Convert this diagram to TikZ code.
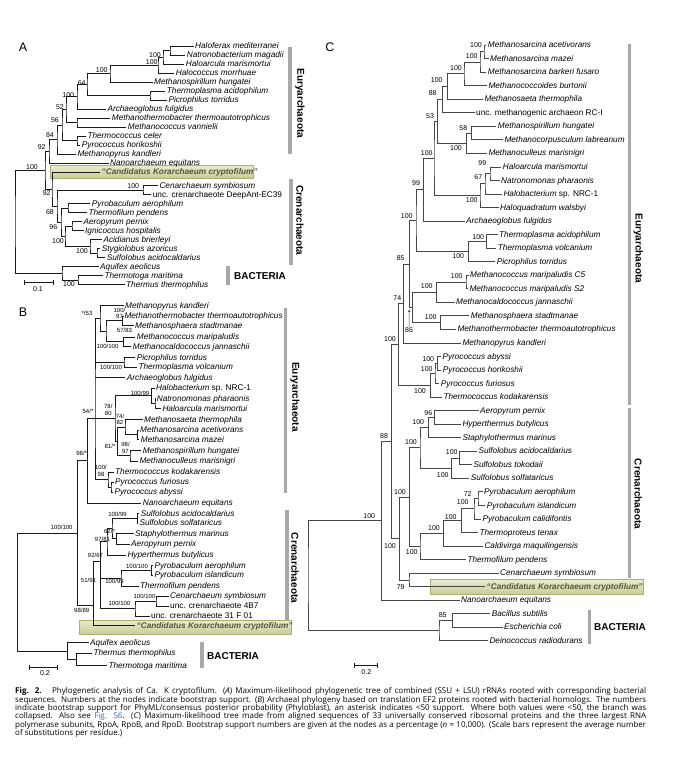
\documentclass[tikz,border=0pt]{standalone}
\usepackage{fontspec}
\setmainfont{Liberation Sans}
\newfontfamily\capfont{Open Sans}
\usepackage{xcolor}
\definecolor{barcol}{HTML}{A9A9A9}
\definecolor{korlight}{HTML}{EAECCD}
\definecolor{kordark}{HTML}{C8CC96}
\definecolor{korline}{HTML}{ABAF74}
\definecolor{kortext}{HTML}{55553A}
\definecolor{linkblue}{HTML}{3B6DB3}
\usetikzlibrary{arrows.meta}
\tikzset{
  >={Latex[length=3pt,width=2.4pt]},
  br/.style={black!90, line width=0.75pt},
  brc/.style={black!72, line width=0.75pt},
  leaf/.style={font=\fontsize{8.25}{9}\selectfont\itshape, anchor=mid west, inner xsep=1.5pt, inner ysep=0pt},
  bs/.style={font=\fontsize{7}{7}\selectfont, inner sep=0pt},
  bsb/.style={font=\fontsize{6}{6.6}\selectfont, inner sep=0pt, align=center},
  clade/.style={font=\fontsize{10}{10}\selectfont\bfseries, rotate=-90, inner sep=0pt},
  bact/.style={font=\fontsize{10}{10}\selectfont\bfseries, inner sep=0pt},
  cladebar/.style={barcol, line width=3.3pt},
  ttl/.style={font=\fontsize{12.5}{12.5}\selectfont, inner sep=0pt},
  korbox/.style={top color=korlight, bottom color=kordark, draw=korline, line width=0.5pt},
  kortxt/.style={font=\fontsize{8.25}{9}\selectfont\bfseries\itshape, text=kortext, anchor=mid west, inner xsep=1.5pt, inner ysep=0pt},
  scalebar/.style={black!90, line width=0.7pt, {Bar[width=5pt]}-{Bar[width=5pt]}},
  figcap/.style={font={\capfont\fontsize{8}{8.3}\selectfont}, text width=631pt, align=justify, inner sep=0pt, anchor=north west},
}

\begin{document}
\begin{tikzpicture}[x=1pt, y=-1pt]
\useasboundingbox[fill=white] (0,0) rectangle (677,761);

% ------------------------------------------------------------- (A)
\node[ttl] (pA) at (23,47) {A};
\path[korbox] (50,165) rectangle (253,178);
\foreach \nm/\xx/\yy/\txt in {
  haloferax/193.5/46/Haloferax mediterranei,
  natronobact/185.2/55/Natronobacterium magadii,
  haloarcA/184.2/64/Haloarcula marismortui,
  halococcus/174.2/73/Halococcus morrhuae,
  mspirA/152.5/82/Methanospirillum hungatei,
  tacidoA/165.2/91/Thermoplasma acidophilum,
  picroA/166.8/100/Picrophilus torridus,
  archaeoA/105.8/109/Archaeoglobus fulgidus,
  mthermoA/110.2/118/Methanothermobacter thermoautotrophicus,
  mvannielii/126.2/127/Methanococcus vannielii,
  tceler/85.8/136/Thermococcus celer,
  phoriA/80.2/145/Pyrococcus horikoshii,
  mkandA/75.8/154/Methanopyrus kandleri,
  nanoA/108.5/163/Nanoarchaeum equitans,
  cenA/157.8/185.5/Cenarchaeum symbiosum,
  deepant/151.2/194.5/{\upshape unc. crenarchaeote DeepAnt-EC39},
  pyrobA/90.2/203.5/Pyrobaculum aerophilum,
  tpendA/86.8/212.5/Thermofilum pendens,
  aeroA/81.8/221.5/Aeropyrum pernix,
  ignico/83.5/230.5/Ignicoccus hospitalis,
  acidian/101.8/239.5/Acidianus brierleyi,
  stygio/100.2/248.5/Stygiolobus azoricus,
  sacidoA/105.2/257.5/Sulfolobus acidocaldarius,
  aquifA/98.5/266.5/Aquifex aeolicus,
  tmariA/102.8/275.5/Thermotoga maritima,
  tthermA/124.5/284.5/Thermus thermophilus}{
  \coordinate (\nm) at (\xx,\yy);
  \node[leaf] (\nm-l) at (\nm) {\txt};
}
\coordinate (korA) at (100,172);
\node[kortxt] (korA-l) at (korA) {“Candidatus Korarchaeum cryptofilum”};

\foreach \nm/\xx/\yy in {a1/170/50.5, a2/163/57.25, a3/158/65.1, a4/110/73.6,
  a5/150/95.5, a6/87/84.5, a7/77/96.8, a8/77/122.5, a9/66/109.6, a10/77/140.5,
  a11/62/125, a12/57/139.5, a13/49/151.3, ac1/143/190, ac2/68/208, ac3/72/226,
  ac4/97/253, ac5/90/246.3, ac6/65/236, ac7/61/222, ac8/57/206, ac9/52/189,
  a14/45/170.2, ab1/78/280, ab2/62/273, rootA/15/221.6}
  \coordinate (\nm) at (\xx,\yy);

\foreach \p/\ca/\cb in {a1/haloferax/natronobact, a2/a1/haloarcA, a3/a2/halococcus,
  a4/a3/mspirA, a5/tacidoA/picroA, a6/a4/a5, a7/a6/archaeoA, a8/mthermoA/mvannielii,
  a9/a7/a8, a10/tceler/phoriA, a11/a9/a10, a12/a11/mkandA, a13/a12/nanoA,
  ac1/cenA/deepant, ac2/pyrobA/tpendA, ac3/aeroA/ignico, ac4/stygio/sacidoA,
  ac5/acidian/ac4, ac6/ac3/ac5, ac7/ac2/ac6, ac8/ac1/ac7, ac9/korA/ac8,
  a14/a13/ac9, ab1/tmariA/tthermA, ab2/aquifA/ab1, rootA/a14/ab2}
  \draw[br] (\ca) -| (\p) |- (\cb);

\foreach \nm/\xx/\yy/\val in {a1/155/55/100, a2/151.7/62.3/100, a4/101.7/70/100,
  a6/81.7/82.7/64, a7/68.3/95/100, a9/60/106.7/52, a11/55/120/56, a12/50/135/84,
  a13/41.7/146.7/92, a14/32/167.5/100, ac1/133.3/185.7/100, ac9/46.7/193.3/92,
  ac8/50/211.7/68, ac7/53.3/226.7/96, ac6/58/241/100, ac5/82/251/100,
  ab1/69/284.3/100}
  \node[bs] (\nm-s) at (\xx,\yy) {\val};

\draw[cladebar] (290,47) -- (290,154);
\node[clade] (euryA) at (300,103.3) {Euryarchaeota};
\draw[cladebar] (291,179) -- (291,265);
\node[clade] (crenA) at (300,220.3) {Crenarchaeota};
\draw[cladebar] (228,266) -- (228,285);
\node[bact] (bactA) at (260,276) {BACTERIA};
\draw[scalebar] (24,282) -- (54,282);
\node[bs] (scaleA) at (38,289.5) {0.1};

% ------------------------------------------------------------- (B)
\node[ttl] (pB) at (23,311.7) {B};
\path[korbox] (79,620) rectangle (291,634.3);
\foreach \nm/\xx/\yy/\txt in {
  mkandB/123.5/305.7/Methanopyrus kandleri,
  mthermoB/122.8/316/Methanothermobacter thermoautotrophicus,
  msphaeraB/133.5/325.5/Methanosphaera stadtmanae,
  mmaripB/135.2/337/Methanococcus maripaludis,
  mjannB/131.2/346.5/Methanocaldococcus jannaschii,
  picroB/135.2/357.5/Picrophilus torridus,
  tvolcB/136.8/367/Thermoplasma volcanium,
  archaeoB/125.2/377.7/Archaeoglobus fulgidus,
  halobactB/154.5/388/{Halobacterium {\upshape sp. NRC-1}},
  natronoB/155.2/398.7/Natronomonas pharaonis,
  haloarcB/160.8/408.5/Haloarcula marismortui,
  msaetaB/142.5/419.5/Methanosaeta thermophila,
  macetB/138.5/430/Methanosarcina acetivorans,
  mmazeiB/139.2/439.5/Methanosarcina mazei,
  mspirB/141.2/450.5/Methanospirillum hungatei,
  mcullB/137.8/461/Methanoculleus marisnigri,
  tkodakB/113.5/472/Thermococcus kodakarensis,
  pfurB/113.5/482/Pyrococcus furiosus,
  pabyB/112.8/492/Pyrococcus abyssi,
  nanoB/141.2/503/Nanoarchaeum equitans,
  sacidoB/139.2/513.5/Sulfolobus acidocaldarius,
  ssolfB/137.8/523.3/Sulfolobus solfataricus,
  staphB/133.5/533.7/Staphylothermus marinus,
  aeroB/129.5/544/Aeropyrum pernix,
  hyperB/125.8/555/Hyperthermus butylicus,
  pyroaB/152.8/565.5/Pyrobaculum aerophilum,
  pyroiB/152.8/575/Pyrobaculum islandicum,
  tpendB/138.5/586/Thermofilum pendens,
  cenB/168.5/596/Cenarchaeum symbiosum,
  unc4b/168.5/606/{\upshape unc. crenarchaeote 4B7},
  unc31f/149.5/616/{\upshape unc. crenarchaeote 31 F 01},
  aquifB/88.5/642.7/Aquifex aeolicus,
  tthermB/91.8/653.3/Thermus thermophilus,
  tmariB/106.8/665.7/Thermotoga maritima}{
  \coordinate (\nm) at (\xx,\yy);
  \node[leaf] (\nm-l) at (\nm) {\txt};
}
\coordinate (korB) at (135,625.7);
\node[kortxt] (korB-l) at (korB) {“Candidatus Korarchaeum cryptofilum”};

\foreach \nm/\xx/\yy in {bk1/122.7/320.75, bk2/123.3/341.75, bk3/106/331.25,
  bk4/100/318.5, bp1/124/362.25, bh1/155/403.6, bh2/151.7/395.8, bm1/137.7/434.75,
  bm2/125/427.1, bm3/130/455.75, bm4/117.3/441.4, bh3/115/418.6, bt1/111/487,
  bt2/108/479.5, be1/95/418.6, be2/87.3/460.8, bs1/137.3/518.4, bc1/116.5/538.85,
  bc2/112/528.6, bq/107/541.8, bp2a/151.7/570.25, bp2/121/578.1, bn1/156/601,
  bn2/135/608.5, bx/100.5/561.7, bK/93.5/605, bA/77.3/532.9, bb2/76.7/659.5,
  bb1/67.7/651.1, rootB/17.3/592}
  \coordinate (\nm) at (\xx,\yy);

\foreach \p/\ca/\cb in {bk1/mthermoB/msphaeraB, bk2/mmaripB/mjannB, bk3/bk1/bk2,
  bk4/mkandB/bk3, bp1/picroB/tvolcB, bh1/natronoB/haloarcB, bh2/halobactB/bh1,
  bm1/macetB/mmazeiB, bm2/msaetaB/bm1, bm3/mspirB/mcullB, bm4/bm2/bm3, bh3/bh2/bm4,
  bt1/pfurB/pabyB, bt2/tkodakB/bt1, be1/bk4/bt2, be2/be1/nanoB,
  bs1/sacidoB/ssolfB, bc1/staphB/aeroB, bc2/bs1/bc1, bq/bc2/hyperB,
  bp2a/pyroaB/pyroiB, bp2/bp2a/tpendB, bn1/cenB/unc4b, bn2/bn1/unc31f,
  bx/bq/bn2, bK/bx/korB, bA/be2/bK, bb2/tthermB/tmariB, bb1/aquifB/bb2,
  rootB/bA/bb1}
  \draw[br] (\ca) -| (\p) |- (\cb);
% collapsed (multifurcating) nodes
\foreach \p/\c in {be1/bp1, be1/archaeoB, be1/bh3, bx/bp2}
  \draw[br] (\p |- \c) -- (\c);

\foreach \nm/\xx/\yy/\val in {bk4/87/313/{*/53}, bk1/119.5/313.5/{100/\\97},
  bk3/124.5/330/{57/83}, bk2/107.5/346/{100/100}, bp1/111/367.7/{100/100},
  bh2/140/393.3/{100/99}, bh3/108.3/410/{78/\\80}, be1/88/411.7/{54/*},
  bm2/120/419.5/{74/\\82}, bm4/110/446.7/{81/*}, bm3/125.5/448/{98/\\97},
  be2/81.7/453.3/{98/*}, bt2/101/471/{100/\\98}, bs1/117.5/514/{100/99},
  bA/61.7/527.3/{100/100}, bc1/109.5/531/{62/*}, bc2/102.5/539/{97/81},
  bq/95.5/555.5/{92/67}, bp2a/137/566/{100/100}, bx/88.5/580/{51/91},
  bp2/114.5/581/{100/99}, bn1/144.5/596/{100/100}, bn2/119.5/603.5/{100/100},
  bK/81.7/610/{98/89}}
  \node[bsb] (\nm-s) at (\xx,\yy) {\val};

\draw[cladebar] (285.7,308) -- (285.7,493);
\node[clade] (euryB) at (295,397) {Euryarchaeota};
\draw[cladebar] (287,510) -- (287,620);
\node[clade] (crenB) at (295,568) {Crenarchaeota};
\draw[cladebar] (202,642) -- (202,668);
\node[bact] (bactB) at (233,656) {BACTERIA};
\draw[scalebar] (29,667.7) -- (58,667.7);
\node[bs] (scaleB) at (45,673.5) {0.2};

% ------------------------------------------------------------- (C)
\node[ttl] (pC) at (330,46.7) {C};
\path[korbox] (430.7,579.3) rectangle (643.3,594.3);
\foreach \nm/\xx/\yy/\txt in {
  msacet/486.2/45.0/Methanosarcina acetivorans,
  msmazei/488.5/58.5/Methanosarcina mazei,
  msbark/486.2/72.1/Methanosarcina barkeri fusaro,
  mcburt/486.8/85.6/Methanococcoides burtonii,
  msaetaC/482.8/99.2/Methanosaeta thermophila,
  rci/474.5/112.7/{\upshape unc. methanogenic archaeon RC-I},
  mspirC/496.2/126.2/Methanospirillum hungatei,
  mcorp/502.8/139.8/Methanocorpusculum labreanum,
  mcullC/486.8/153.3/Methanoculleus marisnigri,
  haloarcC/501.2/166.9/Haloarcula marismortui,
  natronoC/499.5/180.4/Natronomonas pharaonis,
  halobactC/501.8/193.9/{Halobacterium {\upshape sp. NRC-1}},
  haloquad/498.5/207.5/Haloquadratum walsbyi,
  archaeoC/464.5/221.0/Archaeoglobus fulgidus,
  tacidoC/497.5/234.6/Thermoplasma acidophilum,
  tvolcC/496.2/248.1/Thermoplasma volcanium,
  picroC/495.2/261.6/Picrophilus torridus,
  mmc5/468.5/275.2/Methanococcus maripaludis C5,
  mms2/467.8/288.7/Methanococcus maripaludis S2,
  mjannC/454.5/302.3/Methanocaldococcus jannaschii,
  msphaeraC/469.2/315.8/Methanosphaera stadtmanae,
  mthermoC/455.8/329.3/Methanothermobacter thermoautotrophicus,
  mkandC/460.8/342.9/Methanopyrus kandleri,
  pabyC/440.8/356.4/Pyrococcus abyssi,
  phoriC/441.2/370.0/Pyrococcus horikoshii,
  pfurC/439.2/383.5/Pyrococcus furiosus,
  tkodakC/441.8/397.0/Thermococcus kodakarensis,
  aeroC/478.5/410.6/Aeropyrum pernix,
  hyperC/460.8/424.1/Hyperthermus butylicus,
  staphC/460.8/437.7/Staphylothermus marinus,
  sacidoC/476.8/451.2/Sulfolobus acidocaldarius,
  stokoC/471.8/464.7/Sulfolobus tokodaii,
  ssolfC/469.2/478.3/Sulfolobus solfataricus,
  pyroaC/482.5/491.8/Pyrobaculum aerophilum,
  pyroiC/485.2/505.4/Pyrobaculum islandicum,
  pyrocC/480.8/518.9/Pyrobaculum calidifontis,
  ttenax/477.8/532.4/Thermoproteus tenax,
  caldiv/482.8/546.0/Caldivirga maquilingensis,
  tpendC/465.8/559.5/Thermofilum pendens,
  cenC/498.5/573.1/Cenarchaeum symbiosum,
  nanoC/459.5/600.1/Nanoarchaeum equitans,
  bsub/490.2/613.7/Bacillus subtilis,
  ecoli/502.5/627.2/Escherichia coli,
  deino/487.8/640.8/Deinococcus radiodurans}{
  \coordinate (\nm) at (\xx,\yy);
  \node[leaf] (\nm-l) at (\nm) {\txt};
}
\coordinate (korC) at (485,586.6);
\node[kortxt] (korC-l) at (korC) {“Candidatus Korarchaeum cryptofilum”};

\foreach \nm/\xx/\yy in {c1/484/51.75, c2/480/61.9, c3/464/73.8, c4/447.3/86.5,
  c5/442.3/99.6, c6/471.7/133, c7/466.7/143.2, c8/437.7/121.4, c9/490/173.7,
  c10/485/183.8, c11/480/195.7, c12/434/158.5, c13/423.3/189.8, c14/486.7/241.4,
  c15/468.3/251.5, c16/416/220.7, c17/466/282, c18/436.7/292.1, c19/440.7/322.6,
  c20/412.7/307.4, c21/409.3/264, c22/403.3/303.5, c23/437.7/363.2, c24/435/373.4,
  c25/430.7/385.2, c26/398.3/344.4, c27/434.3/417.4, c28/428.3/427.5, c29/459.3/458,
  c30/451.7/468.1, c31/420/447.8, c32/478/498.6, c33/474/508.8, c34/461.7/520.6,
  c35/443.3/533.3, c36/420/546.4, c37/409.3/497.1, c39/409/579.9, c38/399.3/538.5,
  c40/391.7/441.5, c41/381.7/520.8, c42/452.3/620.5, c43/439/630.6, rootC/308/575.7}
  \coordinate (\nm) at (\xx,\yy);

\foreach \p/\ca/\cb in {c1/msacet/msmazei, c2/c1/msbark, c3/c2/mcburt, c4/c3/msaetaC,
  c5/c4/rci, c6/mspirC/mcorp, c7/c6/mcullC, c8/c5/c7, c9/haloarcC/natronoC,
  c10/c9/halobactC, c11/c10/haloquad, c12/c8/c11, c13/c12/archaeoC,
  c14/tacidoC/tvolcC, c15/c14/picroC, c16/c13/c15, c17/mmc5/mms2, c18/c17/mjannC,
  c19/msphaeraC/mthermoC, c20/c18/c19, c21/c16/c20, c22/c21/mkandC,
  c23/pabyC/phoriC, c24/c23/pfurC, c25/c24/tkodakC, c26/c22/c25,
  c27/aeroC/hyperC, c28/c27/staphC, c29/sacidoC/stokoC, c30/c29/ssolfC,
  c31/c28/c30, c32/pyroaC/pyroiC, c33/c32/pyrocC, c34/c33/ttenax, c35/c34/caldiv,
  c36/c35/tpendC, c37/c31/c36, c39/cenC/korC, c38/c37/c39, c40/c26/c38,
  c41/c40/nanoC, c42/bsub/ecoli, c43/c42/deino, rootC/c41/c43}
  \draw[brc] (\ca) -| (\p) |- (\cb);

\foreach \nm/\xx/\yy/\val in {c1/476/45/100, c2/471.7/56/100, c3/456/68.3/100,
  c4/436.7/80/100, c5/432.7/92.7/88, c8/430/116/53, c6/463.3/128.3/58,
  c7/456/148.3/100, c12/426.7/152.7/100, c9/482.3/162.7/99, c10/478.3/176.7/67,
  c13/416/182.7/99, c11/471.7/200/100, c16/406.7/215.7/100, c14/478.3/236.7/100,
  c15/458.3/256/100, c21/400.7/257.7/85, c17/456.7/276/100, c18/426.7/286/100,
  c22/397.3/298.3/74, c19/430.7/317.3/100, c20/409/330/86, c26/390/339.3/100,
  c23/428.3/359.3/100, c24/426.7/369/100, c25/420/391/100, c27/428.3/412.7/96,
  c28/418.3/422.3/100, c40/384/436/88, c31/411/442.3/100, c29/451.7/452.3/100,
  c30/442.7/475/100, c37/400/492.3/100, c32/467.7/494.3/72, c33/462.7/502.3/100,
  c41/369.3/515.7/100, c34/450.7/516.7/100, c35/434/528/100, c38/390/545.7/100,
  c36/411.7/552.3/100, c39/400.7/586.7/79, c42/442.7/615/85}
  \node[bs] (\nm-s) at (\xx,\yy) {\val};
\coordinate (c20a) at (409.3,309);
\draw[brc, line width=0.5pt, ->] (c20-s.north) -- (c20a);

\draw[cladebar] (629.3,44) -- (629.3,405);
\node[clade] (euryC) at (638.3,248.3) {Euryarchaeota};
\draw[cladebar] (629.3,408.3) -- (629.3,578);
\node[clade] (crenC) at (638.3,494) {Crenarchaeota};
\draw[cladebar] (589.3,610) -- (589.3,644);
\node[bact] (bactC) at (620,627.3) {BACTERIA};
\draw[scalebar] (353.7,665) -- (377.7,665);
\node[bs] (scaleC) at (366.3,672.3) {0.2};

% ------------------------------------------------------------- caption
\node[figcap] (caption) at (15,687.5) {\textbf{Fig. 2.}\hspace{1.3em}Phylogenetic analysis of Ca. K cryptofilum. (\textit{A}) Maximum-likelihood phylogenetic tree of combined (SSU + LSU) rRNAs rooted with corresponding bacterial\linebreak
sequences. Numbers at the nodes indicate bootstrap support. (\textit{B}) Archaeal phylogeny based on translation EF2 proteins rooted with bacterial homologs. The numbers\linebreak
indicate bootstrap support for PhyML/consensus posterior probability (Phyloblast), an asterisk indicates <50 support. Where both values were <50, the branch was\linebreak
collapsed. Also see \textcolor{linkblue}{Fig. S6}. (\textit{C}) Maximum-likelihood tree made from aligned sequences of 33 universally conserved ribosomal proteins and the three largest RNA\linebreak
polymerase subunits, RpoA, RpoB, and RpoD. Bootstrap support numbers are given at the nodes as a percentage (\textit{n} = 10,000). (Scale bars represent the average number\linebreak
of substitutions per residue.)};
\end{tikzpicture}
\end{document}
